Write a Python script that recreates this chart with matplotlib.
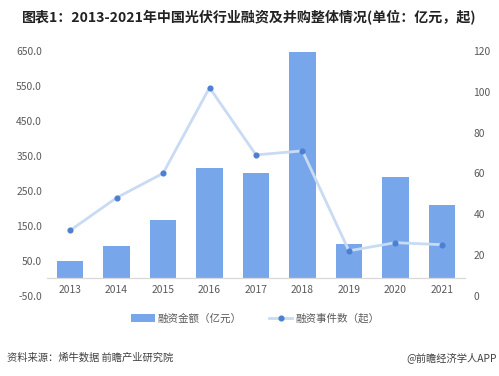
import matplotlib
matplotlib.use("Agg")
import matplotlib.pyplot as plt

plt.rcParams["font.family"] = ["Noto Sans CJK SC", "DejaVu Sans"]

years = ["2013", "2014", "2015", "2016", "2017", "2018", "2019", "2020", "2021"]
amount = [49, 91, 167, 315, 301, 646, 97, 289, 209]  # 融资金额（亿元）
events = [32, 48, 60, 102, 69, 71, 22, 26, 25]  # 融资事件数（起）

left_ticks = [-50, 50, 150, 250, 350, 450, 550, 650]
right_ticks = [0, 20, 40, 60, 80, 100, 120]

bar_color = "#78A6EA"
line_color = "#C9DBF3"
marker_color = "#4D80D2"
tick_color = "#595959"

fig = plt.figure(figsize=(4.99, 3.76), dpi=100)
ax = fig.add_axes([0.094, 0.2136, 0.838, 0.651])
x = list(range(len(years)))

bars = ax.bar(x, amount, width=0.57, color=bar_color, zorder=2)
ax.set_ylim(-50, 650)
ax.set_xlim(-0.5, len(years) - 0.5)
ax.set_yticks(left_ticks)
ax.set_yticklabels([f"{v:.1f}" for v in left_ticks])
for s in ax.spines.values():
    s.set_visible(False)
# category axis drawn along the zero line
ax.spines["bottom"].set_visible(True)
ax.spines["bottom"].set_position(("data", 0))
ax.spines["bottom"].set_color("#D9D9D9")
ax.spines["bottom"].set_linewidth(0.9)
ax.set_xticks(x)
ax.set_xticklabels(years)
ax.tick_params(axis="both", length=0, colors=tick_color, labelsize=7.4)
ax.tick_params(axis="x", pad=5)

ax2 = ax.twinx()
line, = ax2.plot(x, events, color=line_color, lw=2, marker="o", markersize=3.4,
                 markerfacecolor=marker_color, markeredgecolor=marker_color, zorder=3)
ax2.set_ylim(0, 120)
ax2.set_yticks(right_ticks)
for s in ax2.spines.values():
    s.set_visible(False)
ax2.tick_params(axis="y", length=0, colors=tick_color, labelsize=7.4, pad=6)

fig.text(0.044, 0.952, "图表1：2013-2021年中国光伏行业融资及并购整体情况(单位：亿元，起)",
         fontsize=10.1, fontweight="bold", color="#222222", va="center", ha="left")

fig.legend([bars, line], ["融资金额（亿元）", "融资事件数（起）"], loc="center",
           bbox_to_anchor=(0.512, 0.153), ncol=2, frameon=False, fontsize=7.6,
           labelcolor=tick_color, handlelength=2.2, columnspacing=2.6, handletextpad=0.3)

fig.text(0.014, 0.05, "资料来源：烯牛数据 前瞻产业研究院", fontsize=7.4,
         color="#404040", va="center", ha="left")
fig.text(0.995, 0.05, "@前瞻经济学人APP", fontsize=7.4,
         color="#404040", va="center", ha="right")

fig.savefig("out.png", dpi=100)
